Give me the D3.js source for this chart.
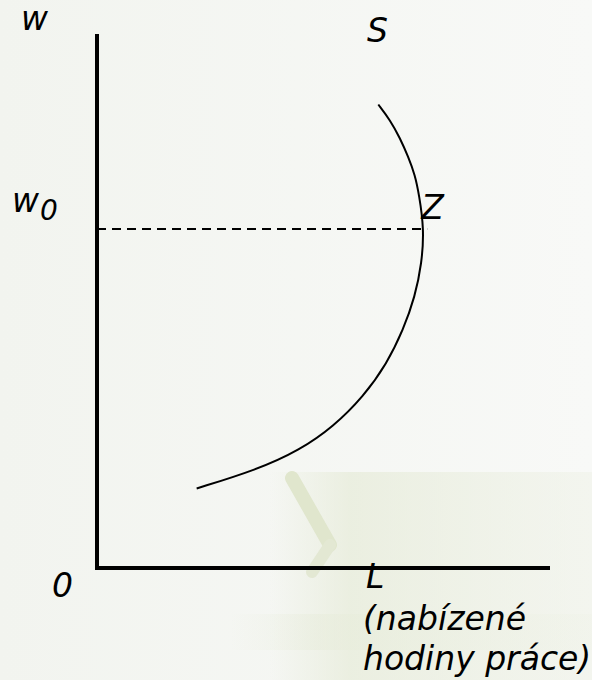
<!DOCTYPE html>
<html>
<head>
<meta charset="utf-8">
<script src="https://cdn.jsdelivr.net/npm/d3@7"></script>
<style>
  body { margin: 0; background: #f5f6f3; }
  text { font-family: "DejaVu Sans", sans-serif; font-style: italic; fill: #000; }
</style>
</head>
<body>
<svg id="chart" width="592" height="680"></svg>
<script>
// backward-bending labour supply curve S (L = hours offered, w = wage), axis units 0..100
const supplyL = [22.0, 35.3, 44.8, 52.2, 58.8, 64.0, 67.6, 70.2, 71.7, 72.2, 71.1, 70.2, 68.7, 66.9, 64.7, 62.1];
const supplyW = [14.9, 18.4, 22.1, 26.5, 32.1, 38.3, 44.6, 50.8, 57.1, 63.5, 69.9, 73.6, 77.0, 80.5, 83.9, 86.8];
const wageW0 = 63.5;
const pointZ = {L: 72.0, w: 63.5};
const labelsL = ["L", "(nabízené", "hodiny práce)"];

const svg = d3.select("#chart");
const W = +svg.attr("width");
const H = +svg.attr("height");

const x = d3.scaleLinear().domain([0, 100]).range([97, 550]);
const y = d3.scaleLinear().domain([0, 100]).range([568, 34]);

// slide background + faint watermark
const defs = svg.append("defs");
const bg = defs.append("linearGradient").attr("id", "bg").attr("x1", 0).attr("x2", 1).attr("y1", 0).attr("y2", 0);
bg.append("stop").attr("offset", "0%").attr("stop-color", "#f2f4ef");
bg.append("stop").attr("offset", "100%").attr("stop-color", "#f8f9f7");
svg.append("rect").attr("width", W).attr("height", H).attr("fill", "url(#bg)");

const band = defs.append("linearGradient").attr("id", "band").attr("x1", 0).attr("x2", 1).attr("y1", 0).attr("y2", 0);
band.append("stop").attr("offset", "0%").attr("stop-color", "#e6ebd8").attr("stop-opacity", 0);
band.append("stop").attr("offset", "25%").attr("stop-color", "#e6ebd8").attr("stop-opacity", 0.7);
band.append("stop").attr("offset", "100%").attr("stop-color", "#eef1e6").attr("stop-opacity", 0.5);

const wm = svg.append("g").attr("class", "watermark");
wm.append("rect").attr("x", 270).attr("y", 472).attr("width", 322).attr("height", 208).attr("fill", "url(#band)");
wm.append("rect").attr("x", 230).attr("y", 614).attr("width", 362).attr("height", 36).attr("fill", "url(#band)").attr("opacity", 0.6);
wm.append("line")
    .attr("x1", 292).attr("y1", 478).attr("x2", 330).attr("y2", 545)
    .attr("stroke", "#e0e6cd").attr("stroke-width", 14).attr("stroke-linecap", "round");
wm.append("line")
    .attr("x1", 330).attr("y1", 545).attr("x2", 312).attr("y2", 572)
    .attr("stroke", "#e3e8d3").attr("stroke-width", 12).attr("stroke-linecap", "round");

// axes
svg.append("line")
    .attr("x1", x(0)).attr("y1", y(100)).attr("x2", x(0)).attr("y2", y(0))
    .attr("stroke", "#000").attr("stroke-width", 4);
svg.append("line")
    .attr("x1", x(0) - 2).attr("y1", y(0)).attr("x2", x(100)).attr("y2", y(0))
    .attr("stroke", "#000").attr("stroke-width", 4);

// dashed w0 line
svg.append("line")
    .attr("x1", x(0)).attr("y1", y(wageW0)).attr("x2", x(pointZ.L) + 4).attr("y2", y(wageW0))
    .attr("stroke", "#000").attr("stroke-width", 2).attr("stroke-dasharray", "9,6");

// supply curve
const pts = supplyL.map((d, i) => [d, supplyW[i]]);
const line = d3.line().x(d => x(d[0])).y(d => y(d[1])).curve(d3.curveBasis);
svg.append("path")
    .datum(pts)
    .attr("d", line)
    .attr("fill", "none")
    .attr("stroke", "#000")
    .attr("stroke-width", 2);

// labels
const fs = 33;
svg.append("text").attr("x", 21).attr("y", 30).attr("font-size", fs).text("w");
svg.append("text").attr("x", 12).attr("y", 212).attr("font-size", fs).text("w");
svg.append("text").attr("x", 40).attr("y", 220).attr("font-size", 28).text("0");
svg.append("text").attr("x", 367).attr("y", 42).attr("font-size", fs).text("S");
svg.append("text").attr("x", x(pointZ.L) - 2).attr("y", y(pointZ.w) - 10).attr("font-size", fs).text("Z");
svg.append("text").attr("x", 52).attr("y", 597).attr("font-size", fs).text("0");

svg.append("text").attr("x", 366).attr("y", 588).attr("font-size", fs).text(labelsL[0]);
svg.append("text").attr("x", 363).attr("y", 630).attr("font-size", fs).text(labelsL[1]);
svg.append("text").attr("x", 363).attr("y", 670).attr("font-size", fs).text(labelsL[2]);
</script>
</body>
</html>
